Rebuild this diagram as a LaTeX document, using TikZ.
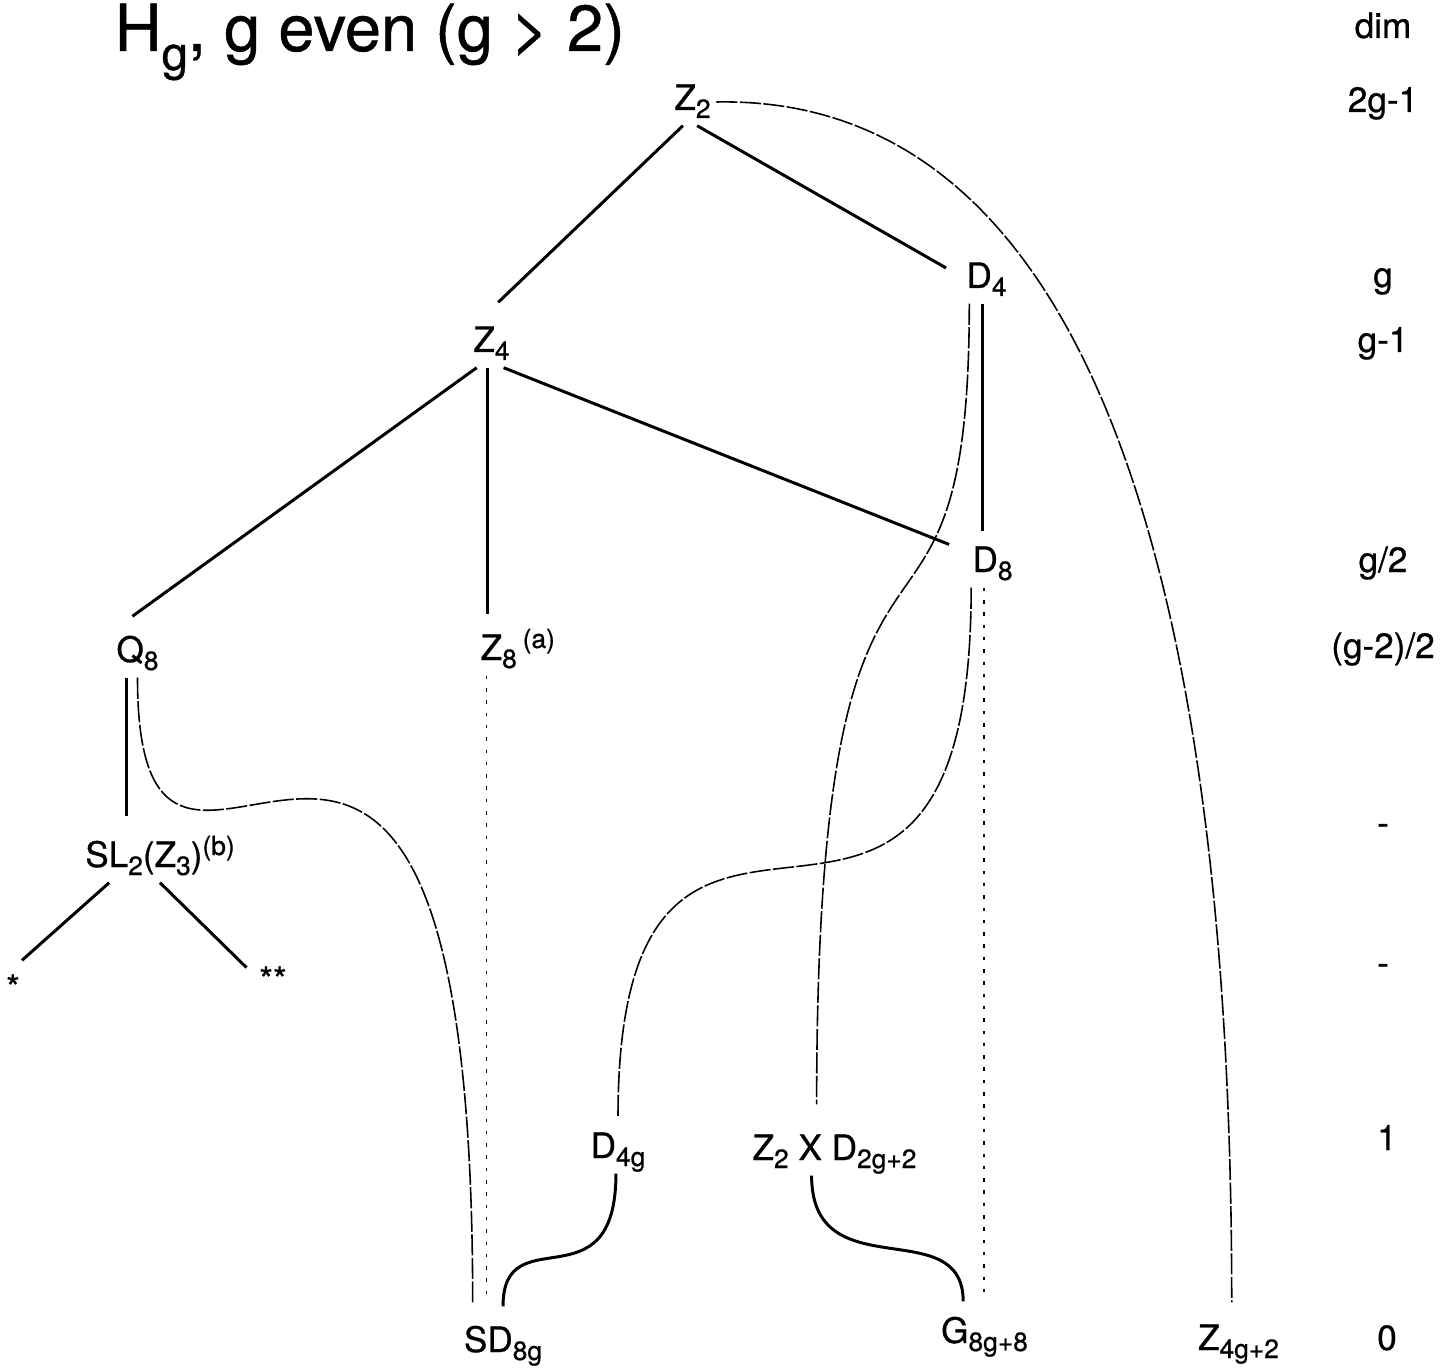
\documentclass[tikz,border=0pt]{standalone}
\usepackage{fontspec}
\setmainfont{TeX Gyre Heros}[FakeBold=0.7]
\usetikzlibrary{calc}

\newcommand\lo[1]{\raisebox{-0.8mm}{\fontsize{7.5}{9}\selectfont #1}}
\newcommand\hi[1]{\raisebox{1.2mm}{\fontsize{7.5}{9}\selectfont #1}}

\begin{document}
\begin{tikzpicture}[
  grp/.style={
    anchor=base, inner sep=0.5mm, text height=2.6mm, text depth=1mm,
    font=\fontsize{10}{12}\selectfont
  },
  dimv/.style={anchor=base, inner sep=0pt, font=\fontsize{10}{12}\selectfont},
  hard/.style={line width=0.85pt},
  soft/.style={line width=0.45pt, dash pattern=on 6pt off 0.7pt},
  faint/.style={line width=0.4pt, dash pattern=on 1pt off 2.5pt}
]
\useasboundingbox (0,0) rectangle (14.47,-13.69);

% Title
\node[anchor=base west, inner sep=0pt, font=\fontsize{18.5}{20}\selectfont]
     (title) at (1.14,-0.51) {H\raisebox{-1.9mm}{\fontsize{13.5}{14}\selectfont g}, g even (g > 2)};

% Groups
\node[grp] (z2)   at (6.925, -1.10) {Z\lo{2}};
\node[grp] (d4)   at (9.865, -2.88) {D\lo{4}};
\node[grp] (z4)   at (4.915, -3.52) {Z\lo{4}};
\node[grp] (d8)   at (9.925, -5.72) {D\lo{8}};
\node[grp] (q8)   at (1.375, -6.62) {Q\lo{8}};
\node[grp, anchor=base west] (z8) at (4.75, -6.60) {Z\lo{8}\,\hi{(a)}};
\node[grp] (sl)   at (1.60, -8.67)  {SL\lo{2}(Z\lo{3})\hi{(b)}};
\node[grp] (st1)  at (0.13, -10.00) {*};
\node[grp] (st2)  at (2.73, -9.92)  {**};
\node[grp] (d4g)  at (6.18, -11.58) {D\lo{4g}};
\node[grp] (zd)   at (8.345, -11.60) {Z\lo{2} X D\lo{2g+2}};
\node[grp] (sd8g) at (5.03, -13.52) {SD\lo{8g}};
\node[grp] (g8)   at (9.845, -13.43) {G\lo{8g+8}};
\node[grp] (zq)   at (12.385, -13.50) {Z\lo{4g+2}};

% Dimension column
\node[dimv] (dhead) at (13.83, -0.38)  {dim};
\node[dimv] (dtop)  at (13.83, -1.12)  {2g-1};
\node[dimv] (dg)    at (13.83, -2.87)  {g};
\node[dimv] (dgm)   at (13.83, -3.52)  {g-1};
\node[dimv] (dhalf) at (13.83, -5.72)  {g/2};
\node[dimv] (dqrt)  at (13.83, -6.58)  {(g-2)/2};
\node[dimv] (dsl)   at (13.83, -8.35)  {-};
\node[dimv] (dstar) at (13.83, -9.75)  {-};
\node[dimv] (done)  at (13.87, -11.50) {1};
\node[dimv] (dzero) at (13.87, -13.50) {0};

% -- Inclusions --
\draw[hard, shorten >=2.6mm] (z2.248) -- (z4.117);
\draw[hard, shorten >=1.7mm] (z2.281) -- (d4.172);
\draw[hard, shorten >=2.4mm] (z4.238) -- (q8.136);
\draw[hard, shorten >=1.4mm] (z4.260) -- (z4.260 |- z8.north);
\draw[hard, shorten >=1.9mm] (z4.297) -- (d8.154);
\draw[hard, shorten >=0.9mm] (d4.261) -- (d4.261 |- d8.north);
\draw[hard, shorten >=1.9mm] (q8.245) -- (q8.245 |- sl.north);
\draw[hard, shorten >=1.2mm] (sl.205) -- (st1.north);
\draw[hard, shorten >=1mm]   (sl.south) -- (st2.154);
\draw[hard, shorten >=1.4mm] (d4g.265) .. controls +(0,-1.35) and +(0,1.05) .. (sd8g.north);
\draw[hard, shorten >=1mm]   (zd.226) .. controls +(0,-1.15) and +(0,1.0) .. (g8.132);

% -- Thin links --
\draw[soft, shorten >=1.6mm] (z2.east) .. controls +(3.65,0.07) and +(0,7.59) .. (zq.106);
\draw[soft, shorten >=2.4mm] (d4.234) .. controls +(0,-4.33) and +(0,7.22) .. (zd.127);
\draw[soft, shorten >=0.9mm] (d8.228) .. controls +(0,-5.08) and +(0,4.79) .. (d4g.north);
\draw[soft, shorten >=1.8mm] (q8.south) .. controls +(0,-3.73) and +(0,9.01) .. (sd8g.142);

% -- Dotted verticals --
\draw[faint, shorten >=1.8mm] (z8.217) -- (z8.217 |- sd8g.north);
\draw[faint, shorten >=1.2mm] (d8.250) -- (d8.250 |- g8.north);

\end{tikzpicture}
\end{document}
